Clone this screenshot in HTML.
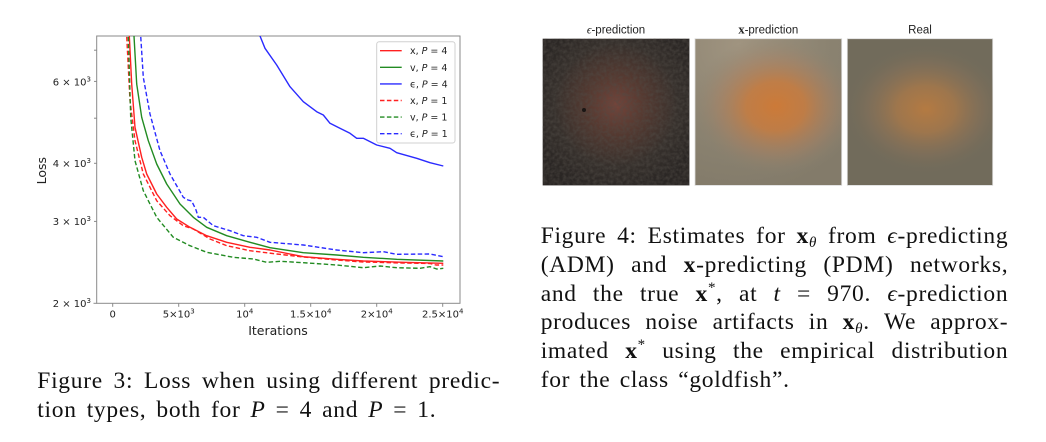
<!DOCTYPE html>
<html>
<head>
<meta charset="utf-8">
<style>
  html,body{margin:0;padding:0;background:#fff;}
  body{width:1046px;height:442px;position:relative;overflow:hidden;}
  svg{position:absolute;left:0;top:0;}
  .cap{position:absolute;font-family:"Liberation Serif","DejaVu Serif",serif;font-size:23.5px;color:#111;line-height:28.7px;}
  .ln{display:block;text-align:justify;text-align-last:justify;height:28.7px;white-space:normal;letter-spacing:0.7px;}
  .ln b{font-weight:bold;}
  .ln sub{font-size:15px;vertical-align:-4px;line-height:0;font-style:italic;}
  .ln sup{font-size:15px;vertical-align:9px;line-height:0;}
  i{font-style:italic;}
</style>
</head>
<body>
<svg width="1046" height="442" viewBox="0 0 1046 442" xmlns="http://www.w3.org/2000/svg">
  <defs>
    <clipPath id="ax"><rect x="96.7" y="36" width="363.3" height="267.3"/></clipPath>
    <radialGradient id="g1" cx="0.5" cy="0.45" r="0.6">
      <stop offset="0" stop-color="#74443a"/>
      <stop offset="0.3" stop-color="#583a31"/>
      <stop offset="0.7" stop-color="#36302c"/>
      <stop offset="1" stop-color="#2a2624"/>
    </radialGradient>
    <radialGradient id="g2bg" cx="0.3" cy="0.05" r="1">
      <stop offset="0" stop-color="#a09480"/>
      <stop offset="0.6" stop-color="#8b8371"/>
      <stop offset="1" stop-color="#837b6a"/>
    </radialGradient>
    <radialGradient id="g2" cx="0.55" cy="0.46" r="0.5" gradientTransform="translate(0.55 0.46) scale(1.15 0.95) translate(-0.55 -0.46)">
      <stop offset="0" stop-color="#cc7a38" stop-opacity="1"/>
      <stop offset="0.35" stop-color="#c47c42" stop-opacity="0.9"/>
      <stop offset="0.7" stop-color="#a98060" stop-opacity="0.45"/>
      <stop offset="1" stop-color="#8b8371" stop-opacity="0"/>
    </radialGradient>
    <radialGradient id="g3" cx="0.54" cy="0.48" r="0.5" gradientTransform="translate(0.54 0.48) scale(1.15 0.9) translate(-0.54 -0.48)">
      <stop offset="0" stop-color="#b47a42" stop-opacity="1"/>
      <stop offset="0.35" stop-color="#a6784a" stop-opacity="0.85"/>
      <stop offset="0.7" stop-color="#8a7258" stop-opacity="0.45"/>
      <stop offset="1" stop-color="#716b5b" stop-opacity="0"/>
    </radialGradient>
    <filter id="noise" x="0" y="0" width="100%" height="100%">
      <feTurbulence type="fractalNoise" baseFrequency="0.3" numOctaves="2" seed="5"/>
      <feColorMatrix type="matrix" values="0 0 0 0 0.08  0 0 0 0 0.07  0 0 0 0 0.06  1.8 0 0 0 -0.55"/>
    </filter>
  </defs>

  <!-- ===== Figure 3 chart ===== -->
  <rect x="96.7" y="36" width="363.3" height="267.3" fill="#fff" stroke="#8a8a8a" stroke-width="1"/>
  <g stroke="#8a8a8a" stroke-width="1">
    <line x1="93.5" y1="303.3" x2="96.7" y2="303.3"/>
    <line x1="94" y1="221.4" x2="96.7" y2="221.4"/>
    <line x1="94" y1="163.3" x2="96.7" y2="163.3"/>
    <line x1="94" y1="118.2" x2="96.7" y2="118.2"/>
    <line x1="94" y1="81.4" x2="96.7" y2="81.4"/>
    <line x1="94" y1="50.2" x2="96.7" y2="50.2"/>
    <line x1="112.7" y1="303.3" x2="112.7" y2="306.8"/>
    <line x1="178.7" y1="303.3" x2="178.7" y2="306.8"/>
    <line x1="244.7" y1="303.3" x2="244.7" y2="306.8"/>
    <line x1="310.7" y1="303.3" x2="310.7" y2="306.8"/>
    <line x1="376.7" y1="303.3" x2="376.7" y2="306.8"/>
    <line x1="442.7" y1="303.3" x2="442.7" y2="306.8"/>
  </g>
  <g font-family="DejaVu Sans, sans-serif" font-size="10" fill="#222" text-anchor="end">
    <text x="91" y="307">2 × 10<tspan font-size="7" dy="-4">3</tspan></text>
    <text x="91" y="225">3 × 10<tspan font-size="7" dy="-4">3</tspan></text>
    <text x="91" y="167">4 × 10<tspan font-size="7" dy="-4">3</tspan></text>
    <text x="91" y="85.3">6 × 10<tspan font-size="7" dy="-4">3</tspan></text>
  </g>
  <g font-family="DejaVu Sans, sans-serif" font-size="10" fill="#222" text-anchor="middle">
    <text x="112.7" y="317.5">0</text>
    <text x="178.7" y="317.5">5×10<tspan font-size="7" dy="-4">3</tspan></text>
    <text x="244.7" y="317.5">10<tspan font-size="7" dy="-4">4</tspan></text>
    <text x="310.7" y="317.5">1.5×10<tspan font-size="7" dy="-4">4</tspan></text>
    <text x="376.7" y="317.5">2×10<tspan font-size="7" dy="-4">4</tspan></text>
    <text x="442.7" y="317.5">2.5×10<tspan font-size="7" dy="-4">4</tspan></text>
  </g>
  <text x="278" y="335" font-family="DejaVu Sans, sans-serif" font-size="12.5" fill="#222" text-anchor="middle">Iterations</text>
  <text x="0" y="0" transform="translate(46,170.7) rotate(-90)" font-family="DejaVu Sans, sans-serif" font-size="12.5" fill="#222" text-anchor="middle">Loss</text>

  <g clip-path="url(#ax)" fill="none" stroke-width="1.4" stroke-linejoin="round">
    <polyline stroke="#2a2aff" points="258,30 260,36 265,48.3 276.7,65 290,86.7 303.3,101.7 316.7,111.7 323.3,115 330,123.3 350,133.3 356.7,138.3 363.3,138.3 376.7,145 390,148.3 396.7,152.7 416.7,158.3 430,162.7 443.3,166"/>
    <polyline stroke="#2a2aff" stroke-dasharray="4.5,2.4" points="140.5,30 140.7,36 143.3,77.3 150,114 160,150.7 170,174 183.3,197.3 188,200 191.7,201 196,210 198.3,217.3 203.3,217.3 213.3,225.7 230,230.7 243.3,235.7 256.7,237.3 270,242.3 303.3,245 336.7,250 363.3,252.7 383.3,251.7 396.7,254.3 430,254 443.3,256.7"/>
    <polyline stroke="#228b22" points="133.8,30 134,36 136.7,84 141.7,117.3 148.3,140.7 156.7,164 166.7,184 180,204 193.3,217.3 206.7,227.3 226.7,235.7 250,242.3 270,247.7 303.3,252.7 336.7,255 363.3,257.3 396.7,259.3 443.3,261"/>
    <polyline stroke="#ff2020" stroke-dasharray="4.5,2.4" points="126.5,30 126.7,36 130,100.7 135,140.7 143.3,174 156.7,200.7 170,215.7 183.3,225.7 193.3,229 200,233 210,239 226.7,245.7 250,250.7 276.7,254 303.3,257 336.7,260 363.3,262 403.3,263 430,263.5 436,265 443.3,265"/>
    <polyline stroke="#ff2020" points="129.1,30 129.3,36 131.7,84 135,127.3 141.7,157.3 146.7,174 156.7,194 166.7,207.3 176.7,219 190,227.3 206.7,235.7 226.7,242.3 250,247.3 270,250 303.3,256.7 336.7,259.3 363.3,261 403.3,262.3 443.3,263.3"/>
    <polyline stroke="#228b22" stroke-dasharray="4.5,2.4" points="128.1,30 128.3,36 130.7,117.3 135,160.7 143.3,190.7 156.7,217.3 173.3,237.3 190,245.7 206.7,252.3 233.3,257.3 253.3,259 266.7,262.3 280,261.3 303.3,262.7 336.7,265 363.3,267.7 380,266 396.7,267.7 420,268.3 430,266.7 436.7,269 443.3,268.3"/>
  </g>

  <rect x="376.7" y="41.7" width="78.3" height="101.3" rx="2.5" fill="#fff" fill-opacity="0.85" stroke="#d0d0d0" stroke-width="1"/>
  <g stroke-width="1.4" fill="none">
    <line x1="380" y1="50.7" x2="401.7" y2="50.7" stroke="#ff2020"/>
    <line x1="380" y1="67.3" x2="401.7" y2="67.3" stroke="#228b22"/>
    <line x1="380" y1="83.9" x2="401.7" y2="83.9" stroke="#2a2aff"/>
    <line x1="380" y1="100.5" x2="401.7" y2="100.5" stroke="#ff2020" stroke-dasharray="4.5,2.4"/>
    <line x1="380" y1="117.1" x2="401.7" y2="117.1" stroke="#228b22" stroke-dasharray="4.5,2.4"/>
    <line x1="380" y1="133.7" x2="401.7" y2="133.7" stroke="#2a2aff" stroke-dasharray="4.5,2.4"/>
  </g>
  <g font-family="DejaVu Sans, sans-serif" font-size="9.5" fill="#222">
    <text x="410" y="54.2">x, <tspan font-style="italic">P</tspan> = 4</text>
    <text x="410" y="70.8">v, <tspan font-style="italic">P</tspan> = 4</text>
    <text x="410" y="87.4">ϵ, <tspan font-style="italic">P</tspan> = 4</text>
    <text x="410" y="104">x, <tspan font-style="italic">P</tspan> = 1</text>
    <text x="410" y="120.6">v, <tspan font-style="italic">P</tspan> = 1</text>
    <text x="410" y="137.2">ϵ, <tspan font-style="italic">P</tspan> = 1</text>
  </g>

  <!-- ===== Figure 4 images ===== -->
  <g font-family="Liberation Sans, sans-serif" font-size="11.5" fill="#222" text-anchor="middle">
    <text x="616" y="33.3"><tspan font-family="Liberation Serif, DejaVu Serif, serif" font-style="italic">ϵ</tspan>-prediction</text>
    <text x="768.3" y="33.3"><tspan font-family="Liberation Serif, serif" font-weight="bold" font-size="12.5">x</tspan>-prediction</text>
    <text x="920" y="33.3">Real</text>
  </g>
  <rect x="542.7" y="38.7" width="146.7" height="146.7" fill="url(#g1)"/>
  <rect x="542.7" y="38.7" width="146.7" height="146.7" filter="url(#noise)" opacity="0.6"/>
  <circle cx="584" cy="110" r="2" fill="#1a1614"/>
  <rect x="695" y="38.7" width="146.7" height="146.7" fill="url(#g2bg)" stroke="#dcdcdc" stroke-width="0.8"/>
  <rect x="695" y="38.7" width="146.7" height="146.7" fill="url(#g2)"/>
  <rect x="847.3" y="38.7" width="145.4" height="146.7" fill="#716b5b" stroke="#dcdcdc" stroke-width="0.8"/>
  <rect x="847.3" y="38.7" width="145.4" height="146.7" fill="url(#g3)"/>
</svg>

<div class="cap" style="left:37.3px;top:367px;width:463px;">
  <span class="ln" style="width:463px;">Figure 3: Loss when using different predic-</span>
  <span class="ln" style="width:399px;">tion types, both for <i>P</i> = 4 and <i>P</i> = 1.</span>
</div>

<div class="cap" style="left:540.7px;top:222.2px;width:467.6px;">
  <span class="ln" style="width:467.6px;">Figure 4: Estimates for <b>x</b><sub>θ</sub> from <i>ϵ</i>-predicting</span>
  <span class="ln" style="width:467.6px;">(ADM) and <b>x</b>-predicting (PDM) networks,</span>
  <span class="ln" style="width:467.6px;">and the true <b>x</b><sup>*</sup>, at <i>t</i> = 970. <i>ϵ</i>-prediction</span>
  <span class="ln" style="width:467.6px;">produces noise artifacts in <b>x</b><sub>θ</sub>. We approx-</span>
  <span class="ln" style="width:467.6px;">imated <b>x</b><sup>*</sup> using the empirical distribution</span>
  <span class="ln" style="width:249px;">for the class “goldfish”.</span>
</div>
</body>
</html>
